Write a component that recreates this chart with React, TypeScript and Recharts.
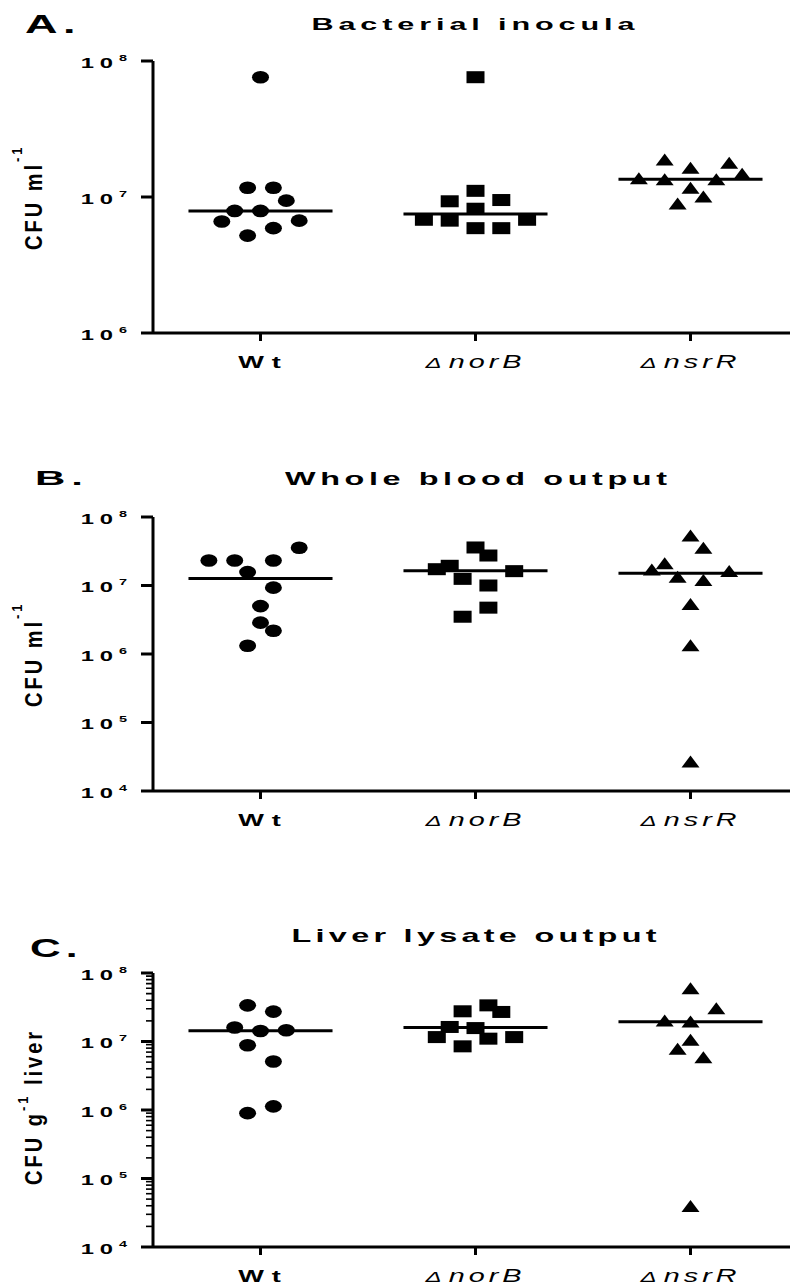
import React from "react";
import { ScatterChart, Scatter, XAxis, YAxis, ReferenceLine } from "recharts";

const groupNames = ["Wt", "norB", "nsrR"];

// A. Bacterial inocula (CFU ml-1)
const inoculaWt = [7.6e7, 1.17e7, 1.17e7, 9.4e6, 7.9e6, 7.9e6, 6.6e6, 6.7e6, 5.9e6, 5.2e6];
const inoculaWtSlot = [0, -1, 1, 2, -2, 0, -3, 3, 1, -1];
const inoculaNorB = [7.6e7, 1.11e7, 9.3e6, 9.5e6, 8.2e6, 6.8e6, 6.7e6, 5.9e6, 5.9e6, 6.8e6];
const inoculaNorBSlot = [0, 0, -2, 2, 0, -4, -2, 0, 2, 4];
const inoculaNsrR = [1.87e7, 1.63e7, 1.77e7, 1.47e7, 1.36e7, 1.34e7, 1.34e7, 1.16e7, 1.0e7, 8.9e6];
const inoculaNsrRSlot = [-2, 0, 3, 4, -4, -2, 2, 0, 1, -1];
const inoculaMedian = [7.9e6, 7.5e6, 1.35e7];

// B. Whole blood output (CFU ml-1)
const bloodWt = [2.32e7, 2.32e7, 2.32e7, 3.56e7, 1.57e7, 9.3e6, 5.0e6, 2.87e6, 2.19e6, 1.32e6];
const bloodWtSlot = [-4, -2, 1, 3, -1, 1, 0, 0, 1, -1];
const bloodNorB = [3.59e7, 2.74e7, 1.94e7, 1.73e7, 1.62e7, 1.25e7, 1.0e7, 4.75e6, 3.5e6];
const bloodNorBSlot = [0, 1, -2, -3, 3, -1, 1, 1, -1];
const bloodNsrR = [5.3e7, 3.5e7, 2.07e7, 1.69e7, 1.6e7, 1.32e7, 1.18e7, 5.3e6, 1.32e6, 2.65e4];
const bloodNsrRSlot = [0, 1, -2, -3, 3, -1, 1, 0, 0, 0];
const bloodMedian = [1.26e7, 1.64e7, 1.51e7];

// C. Liver lysate output (CFU g-1 liver)
const liverWt = [3.37e7, 2.73e7, 1.6e7, 1.42e7, 1.46e7, 8.8e6, 5.1e6, 1.13e6, 9.0e5];
const liverWtSlot = [-1, 1, -2, 0, 2, -1, 1, 1, -1];
const liverNorB = [3.37e7, 2.7e7, 2.76e7, 1.63e7, 1.57e7, 1.16e7, 1.1e7, 1.16e7, 8.5e6];
const liverNorBSlot = [1, 2, -1, -2, 0, -3, 1, 3, -1];
const liverNsrR = [5.9e7, 3.0e7, 1.99e7, 1.93e7, 1.04e7, 7.7e6, 5.8e6, 3.9e4];
const liverNsrRSlot = [0, 2, -2, 0, 0, -1, 1, 0];
const liverMedian = [1.44e7, 1.6e7, 1.95e7];

const ticksA = [1e6, 1e7, 1e8];
const ticksB = [1e4, 1e5, 1e6, 1e7, 1e8];
// panel C also shows log minor ticks (2..9 x 10^n)
const minorMultipliers = [2, 3, 4, 5, 6, 7, 8, 9];
const minorDecadesC = [1e4, 1e5, 1e6, 1e7];

const FONT = '"Liberation Sans", Arial, Helvetica, sans-serif';
const JITTER = 0.06;
const HALF_LINE = 0.335;
const W = 800;

const toPoints = (vals: number[], slots: number[], g: number) =>
  vals.map((v, i) => ({ x: g + slots[i] * JITTER, y: v }));

const Circle = (p: any) => <ellipse cx={p.cx} cy={p.cy} rx={8.5} ry={6.3} fill="#000" />;
const Square = (p: any) => <rect x={p.cx - 9} y={p.cy - 6} width={18} height={12} fill="#000" />;
const Triangle = (p: any) => (
  <polygon points={`${p.cx},${p.cy - 6.5} ${p.cx + 9},${p.cy + 5.5} ${p.cx - 9},${p.cy + 5.5}`} fill="#000" />
);
const MinorTick = (p: any) => (
  <line x1={p.cx - 7} x2={p.cx} y1={p.cy} y2={p.cy} stroke="#000" strokeWidth={1.6} />
);
const shapes = [Circle, Square, Triangle];

const YTick = (props: any) => {
  const { x, y, payload } = props;
  const e = Math.round(Math.log10(payload.value));
  return (
    <g>
      <line x1={x - 12} x2={x} y1={y} y2={y} stroke="#000" strokeWidth={3} />
      <g transform={`translate(${x - 20},${y + 6.5}) scale(1.7,1)`}>
        <text textAnchor="end" fontFamily={FONT} fontWeight="bold" fontSize={14} letterSpacing={3.5} fill="#000">
          10<tspan fontSize={8.5} dy={-6.8}>{e}</tspan>
        </text>
      </g>
    </g>
  );
};

const XTick = (props: any) => {
  const { x, y, payload } = props;
  const name = groupNames[payload.value - 1];
  return (
    <g>
      <line x1={x} x2={x} y1={y} y2={y + 8} stroke="#000" strokeWidth={3} />
      {name === "Wt" ? (
        <g transform={`translate(${x + 3},${y + 35}) scale(1.6,1)`}>
          <text textAnchor="middle" fontFamily={FONT} fontWeight="bold" fontSize={17} letterSpacing={5} fill="#000">
            Wt
          </text>
        </g>
      ) : (
        <g transform={`translate(${x},${y + 35}) scale(1.6,1)`}>
          <text textAnchor="middle" fontFamily={FONT} fontStyle="italic" fontSize={18} letterSpacing={2.5} fill="#000">
            <tspan fontSize={15}>Δ</tspan>
            <tspan dx={2}>{name}</tspan>
          </text>
        </g>
      )}
    </g>
  );
};

type PanelProps = {
  top: number;
  height: number;
  marginTop: number;
  marginBottom: number;
  domain: [number, number];
  ticks: number[];
  series: { x: number; y: number }[][];
  medians: number[];
  minor?: number[];
};

function Panel({ top, height, marginTop, marginBottom, domain, ticks, series, medians, minor }: PanelProps) {
  return (
    <div style={{ position: "absolute", left: 0, top }}>
      <ScatterChart width={W} height={height} margin={{ top: marginTop, right: 2, bottom: marginBottom, left: 0 }}>
        <XAxis
          type="number"
          dataKey="x"
          domain={[0.5, 3.5]}
          ticks={[1, 2, 3]}
          interval={0}
          height={40}
          axisLine={{ stroke: "#000", strokeWidth: 3 }}
          tickLine={false}
          tickSize={0}
          tickMargin={0}
          tick={XTick}
        />
        <YAxis
          type="number"
          dataKey="y"
          scale="log"
          domain={domain}
          allowDataOverflow
          ticks={ticks}
          interval={0}
          width={153}
          axisLine={{ stroke: "#000", strokeWidth: 3 }}
          tickLine={false}
          tickSize={0}
          tickMargin={0}
          tick={YTick}
        />
        {minor && (
          <Scatter data={minor.map((v) => ({ x: 0.5, y: v }))} shape={MinorTick} isAnimationActive={false} />
        )}
        {series.map((pts, i) => (
          <Scatter key={i} data={pts} shape={shapes[i]} isAnimationActive={false} />
        ))}
        {medians.map((m, i) => (
          <ReferenceLine
            key={"m" + i}
            segment={[{ x: i + 1 - HALF_LINE, y: m }, { x: i + 1 + HALF_LINE, y: m }]}
            stroke="#000"
            strokeWidth={3}
            ifOverflow="visible"
          />
        ))}
      </ScatterChart>
    </div>
  );
}

const Title = ({ x, y, size, width, children }: any) => (
  <g transform={`translate(${x},${y}) scale(1.8,1)`}>
    <text textAnchor="middle" fontFamily={FONT} fontWeight="bold" fontSize={size} textLength={width / 1.8}
      lengthAdjust="spacing" fill="#000">
      {children}
    </text>
  </g>
);

const Letter = ({ x, y, size, sx, children }: any) => (
  <g transform={`translate(${x},${y}) scale(${sx},1)`}>
    <text fontFamily={FONT} fontWeight="bold" fontSize={size} letterSpacing={3} fill="#000">
      {children}
    </text>
  </g>
);

const YLabel = ({ x, y, main, sup, rest, supDy }: any) => (
  <g transform={`translate(${x},${y}) scale(1.15,1) rotate(-90)`}>
    <text fontFamily={FONT} fontWeight="bold" fontSize={20} letterSpacing={3} fill="#000">
      {main}
      <tspan fontSize={13} dy={supDy}>{sup}</tspan>
      {rest && <tspan dy={-supDy}>{rest}</tspan>}
    </text>
  </g>
);

export default function App() {
  const minorC = minorDecadesC.flatMap((d) => minorMultipliers.map((m) => m * d));
  return (
    <div style={{ position: "absolute", left: 0, top: 0, width: 790, height: 1287, overflow: "hidden", background: "#fff" }}>
      <Panel
        top={0}
        height={380}
        marginTop={61}
        marginBottom={7}
        domain={[1e6, 1e8]}
        ticks={ticksA}
        series={[
          toPoints(inoculaWt, inoculaWtSlot, 1),
          toPoints(inoculaNorB, inoculaNorBSlot, 2),
          toPoints(inoculaNsrR, inoculaNsrRSlot, 3),
        ]}
        medians={inoculaMedian}
      />
      <Panel
        top={440}
        height={398}
        marginTop={77}
        marginBottom={7}
        domain={[1e4, 1e8]}
        ticks={ticksB}
        series={[
          toPoints(bloodWt, bloodWtSlot, 1),
          toPoints(bloodNorB, bloodNorBSlot, 2),
          toPoints(bloodNsrR, bloodNsrRSlot, 3),
        ]}
        medians={bloodMedian}
      />
      <Panel
        top={900}
        height={387}
        marginTop={73}
        marginBottom={0}
        domain={[1e4, 1e8]}
        ticks={ticksB}
        minor={minorC}
        series={[
          toPoints(liverWt, liverWtSlot, 1),
          toPoints(liverNorB, liverNorBSlot, 2),
          toPoints(liverNsrR, liverNsrRSlot, 3),
        ]}
        medians={liverMedian}
      />
      <svg width={790} height={1287} style={{ position: "absolute", left: 0, top: 0, pointerEvents: "none" }}>
        <Letter x={25} y={33} size={25} sx={1.8}>A.</Letter>
        <Title x={473} y={29.5} size={17} width={323}>Bacterial inocula</Title>
        <YLabel x={42} y={250} main="CFU ml" sup="-1" supDy={-17} />

        <Letter x={35} y={485} size={21} sx={2}>B.</Letter>
        <Title x={476} y={485} size={18} width={382}>Whole blood output</Title>
        <YLabel x={42} y={707} main="CFU ml" sup="-1" supDy={-17} />

        <Letter x={30} y={957} size={25} sx={1.7}>C.</Letter>
        <Title x={474} y={942} size={18} width={365}>Liver lysate output</Title>
        <YLabel x={42} y={1185} main="CFU g" sup="-1" rest=" liver" supDy={-12} />
      </svg>
    </div>
  );
}
